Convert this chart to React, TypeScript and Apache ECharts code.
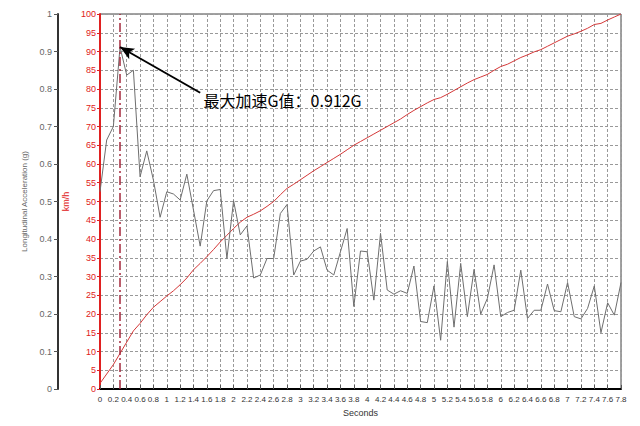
import { useEffect, useRef } from 'react'
import * as echarts from 'echarts'

// time axis (s), sampled every 0.1 s
const seconds = [
  0, 0.1, 0.2, 0.3, 0.4, 0.5, 0.6, 0.7, 0.8, 0.9,
  1, 1.1, 1.2, 1.3, 1.4, 1.5, 1.6, 1.7, 1.8, 1.9,
  2, 2.1, 2.2, 2.3, 2.4, 2.5, 2.6, 2.7, 2.8, 2.9,
  3, 3.1, 3.2, 3.3, 3.4, 3.5, 3.6, 3.7, 3.8, 3.9,
  4, 4.1, 4.2, 4.3, 4.4, 4.5, 4.6, 4.7, 4.8, 4.9,
  5, 5.1, 5.2, 5.3, 5.4, 5.5, 5.6, 5.7, 5.8, 5.9,
  6, 6.1, 6.2, 6.3, 6.4, 6.5, 6.6, 6.7, 6.8, 6.9,
  7, 7.1, 7.2, 7.3, 7.4, 7.5, 7.6, 7.7, 7.8,
]

// longitudinal acceleration (g)
const accel = [
  0.526, 0.664, 0.7, 0.912, 0.837, 0.85, 0.566, 0.635, 0.557, 0.458,
  0.526, 0.52, 0.504, 0.573, 0.477, 0.381, 0.502, 0.529, 0.532, 0.348,
  0.502, 0.411, 0.435, 0.296, 0.304, 0.348, 0.348, 0.468, 0.492, 0.304,
  0.341, 0.346, 0.368, 0.379, 0.317, 0.304, 0.366, 0.428, 0.22, 0.368,
  0.366, 0.237, 0.415, 0.264, 0.253, 0.262, 0.255, 0.328, 0.18, 0.177,
  0.275, 0.13, 0.34, 0.165, 0.335, 0.193, 0.319, 0.2, 0.242, 0.331,
  0.193, 0.204, 0.21, 0.317, 0.188, 0.21, 0.21, 0.28, 0.209, 0.206,
  0.284, 0.193, 0.187, 0.215, 0.275, 0.15, 0.23, 0.197, 0.284,
]

// speed (km/h)
const speed = [
  1.5, 4, 6.5, 9.5, 12.5, 15.5, 17.5, 19.8, 21.8, 23.3,
  24.8, 26.2, 27.8, 29.6, 31.8, 33.5, 35.3, 37.2, 39.2, 41,
  42.8, 44.5, 45.8, 46.6, 47.5, 48.7, 50, 51.8, 53.5, 54.6,
  55.8, 57, 58.2, 59.3, 60.4, 61.5, 62.6, 63.8, 65, 66,
  67, 68, 69, 70, 71, 72, 73.2, 74.3, 75.3, 76.3,
  77.2, 77.7, 78.6, 79.6, 80.6, 81.6, 82.5, 83.2, 83.9, 85,
  86, 86.6, 87.5, 88.4, 89.1, 89.9, 90.5, 91.4, 92.3, 93.2,
  94.1, 94.7, 95.4, 96.2, 97.2, 97.5, 98.4, 99.2, 100,
]

const peakTime = 0.3
const peakG = 0.912
const peakLabel = '最大加速G值：0.912G'
const labelAnchor = [1.55, 0.771]

const FONT = 'Arial, "Liberation Sans", "Noto Sans CJK SC", sans-serif'

export default function App() {
  const chartRef = useRef<HTMLDivElement>(null)

  useEffect(() => {
    document.body.style.margin = '0'
    if (!chartRef.current) return
    const chart = echarts.init(chartRef.current, undefined, { renderer: 'svg' })

    chart.setOption({
      animation: false,
      backgroundColor: '#fff',
      textStyle: { fontFamily: FONT },
      grid: {
        left: 100,
        right: 19,
        top: 14,
        bottom: 37,
        show: true,
        borderColor: '#444',
        borderWidth: 1,
      },
      xAxis: {
        type: 'value',
        min: 0,
        max: 7.8,
        interval: 0.2,
        name: 'Seconds',
        nameLocation: 'middle',
        nameGap: 19,
        nameTextStyle: { color: '#333', fontSize: 9 },
        axisLine: { show: true, lineStyle: { color: '#000', width: 2 } },
        axisTick: { show: true, inside: true, length: 4, lineStyle: { color: '#555' } },
        axisLabel: {
          color: '#333',
          fontSize: 8,
          margin: 6,
          formatter: (v: number) => String(Math.round(v * 10) / 10),
        },
        splitLine: { show: true, lineStyle: { color: '#999', type: [3, 2] } },
      },
      yAxis: [
        {
          type: 'value',
          min: 0,
          max: 100,
          interval: 5,
          position: 'left',
          name: 'km/h',
          nameLocation: 'middle',
          nameGap: 20,
          nameTextStyle: { color: '#e02020', fontSize: 9 },
          axisLine: { show: true, lineStyle: { color: '#e02020', width: 2 } },
          axisTick: { show: true, length: 3, lineStyle: { color: '#e02020' } },
          axisLabel: { color: '#e02020', fontSize: 9, margin: 4 },
          splitLine: { show: true, lineStyle: { color: '#999', type: [3, 2] } },
        },
        {
          type: 'value',
          min: 0,
          max: 1,
          interval: 0.1,
          position: 'left',
          offset: 42,
          name: 'Longitudinal Acceleration (g)',
          nameLocation: 'middle',
          nameGap: 22,
          nameTextStyle: { color: '#666', fontSize: 8 },
          axisLine: { show: true, lineStyle: { color: '#333', width: 2 } },
          axisTick: { show: true, length: 4, lineStyle: { color: '#555' } },
          axisLabel: { color: '#666', fontSize: 9, margin: 6 },
          splitLine: { show: false },
        },
      ],
      series: [
        {
          name: 'Speed',
          type: 'line',
          yAxisIndex: 0,
          data: seconds.map((t, i) => [t, speed[i]]),
          showSymbol: false,
          lineStyle: { color: '#d43838', width: 1 },
          z: 3,
        },
        {
          name: 'Acceleration',
          type: 'line',
          yAxisIndex: 1,
          data: seconds.map((t, i) => [t, accel[i]]),
          showSymbol: false,
          lineStyle: { color: '#6e6e6e', width: 1 },
          z: 4,
          markLine: {
            silent: true,
            animation: false,
            label: { show: false },
            data: [
              [
                {
                  coord: [peakTime, 0],
                  symbol: 'none',
                  lineStyle: { color: '#a4283c', width: 1.5, type: [9, 3, 2, 3] },
                },
                { coord: [peakTime, 1], symbol: 'none' },
              ],
              [
                {
                  coord: [1.5, 0.79],
                  symbol: 'none',
                  lineStyle: { color: '#000', width: 2, type: 'solid' },
                },
                { coord: [peakTime, peakG], symbol: 'arrow', symbolSize: [9, 14] },
              ],
            ],
          },
          markPoint: {
            silent: true,
            symbol: 'circle',
            symbolSize: 0,
            data: [
              {
                coord: labelAnchor,
                label: {
                  show: true,
                  position: 'right',
                  distance: 0,
                  formatter: peakLabel,
                  color: '#000',
                  fontSize: 16,
                  fontFamily: '"Noto Sans CJK SC", sans-serif',
                },
              },
            ],
          },
        },
      ],
    })

    return () => chart.dispose()
  }, [])

  return <div ref={chartRef} style={{ width: 640, height: 426 }} />
}
